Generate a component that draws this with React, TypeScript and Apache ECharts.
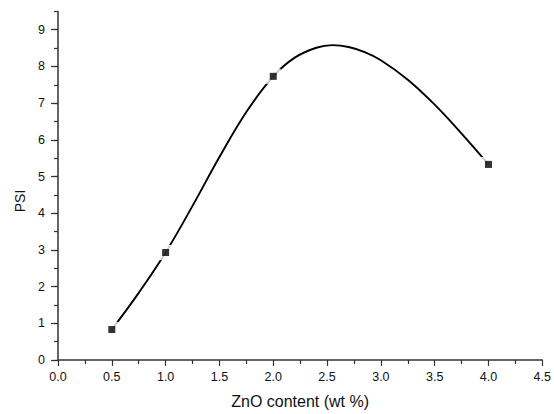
import React, { useEffect, useRef } from "react";
import * as echarts from "echarts";

// Measured data points (ZnO content wt%, PSI)
const pointX = [0.5, 1.0, 2.0, 4.0];
const pointY = [0.83, 2.93, 7.73, 5.33];

// Fitted curve
const curveX = [0.5, 0.75, 1.0, 1.25, 1.5, 1.75, 2.0, 2.2, 2.4, 2.55, 2.7, 2.85, 3.0, 3.25, 3.5, 3.75, 4.0];
const curveY = [0.83, 1.83, 2.93, 4.2, 5.53, 6.76, 7.73, 8.24, 8.51, 8.58, 8.53, 8.39, 8.17, 7.64, 6.96, 6.17, 5.33];

const yMajorTicks = [0, 1, 2, 3, 4, 5, 6, 7, 8, 9];
const xTitle = "ZnO content (wt %)";
const yTitle = "PSI";

export default function App() {
  const ref = useRef<HTMLDivElement>(null);
  useEffect(() => {
    document.body.style.margin = "0";
    const chart = echarts.init(ref.current!, undefined, { renderer: "svg" });
    const font = "Liberation Sans, Arial, sans-serif";
    const axisColor = "#333";
    const points = pointX.map((x, i) => [x, pointY[i]]);
    const curve = curveX.map((x, i) => [x, curveY[i]]);
    chart.setOption({
      animation: false,
      backgroundColor: "#fff",
      grid: { left: 58, right: 11, top: 11.4, bottom: 49, containLabel: false },
      xAxis: {
        type: "value",
        min: 0,
        max: 4.5,
        interval: 0.5,
        name: xTitle,
        nameLocation: "middle",
        nameGap: 33,
        nameTextStyle: { fontFamily: font, fontSize: 16, color: "#111" },
        axisLine: { show: true, onZero: false, lineStyle: { color: axisColor, width: 1.5 } },
        axisTick: { show: true, inside: false, length: 6, lineStyle: { color: axisColor, width: 1.2 } },
        minorTick: { show: true, splitNumber: 2, length: 4, lineStyle: { color: axisColor, width: 1.2 } },
        axisLabel: {
          margin: 10,
          fontFamily: font,
          fontSize: 12.5,
          color: "#111",
          formatter: (v: number) => v.toFixed(1),
        },
        splitLine: { show: false },
      },
      yAxis: [
        {
          type: "value",
          min: 0,
          max: 9.5,
          interval: 0.5,
          axisLine: { show: true, onZero: false, lineStyle: { color: axisColor, width: 1.5 } },
          axisTick: { show: true, length: 4, lineStyle: { color: axisColor, width: 1.2 } },
          axisLabel: {
            margin: 13,
            fontFamily: font,
            fontSize: 12.5,
            color: "#111",
            formatter: (v: number) => (Number.isInteger(v) ? String(v) : ""),
          },
          splitLine: { show: false },
        },
        {
          type: "value",
          min: 0,
          max: 9.5,
          interval: 1,
          position: "left",
          axisLine: { show: false },
          axisTick: { show: true, length: 7, customValues: yMajorTicks, lineStyle: { color: axisColor, width: 1.2 } },
          axisLabel: { show: false },
          splitLine: { show: false },
        },
      ],
      graphic: [
        {
          type: "text",
          x: 20,
          y: 201,
          rotation: Math.PI / 2,
          style: {
            text: yTitle,
            fontFamily: font,
            fontSize: 14,
            fill: "#111",
            align: "center",
            verticalAlign: "middle",
          },
        },
      ],
      series: [
        {
          type: "line",
          data: curve,
          smooth: 0.4,
          showSymbol: false,
          symbol: "none",
          lineStyle: { color: "#000", width: 1.9 },
          z: 2,
        },
        {
          type: "scatter",
          data: points,
          symbol: "rect",
          symbolSize: 15,
          itemStyle: { color: "#fff" },
          z: 3,
        },
        {
          type: "scatter",
          data: points,
          symbol: "rect",
          symbolSize: 7,
          itemStyle: { color: "#000" },
          z: 4,
        },
      ],
    });
    return () => chart.dispose();
  }, []);
  return <div ref={ref} style={{ width: 554, height: 414 }} />;
}
